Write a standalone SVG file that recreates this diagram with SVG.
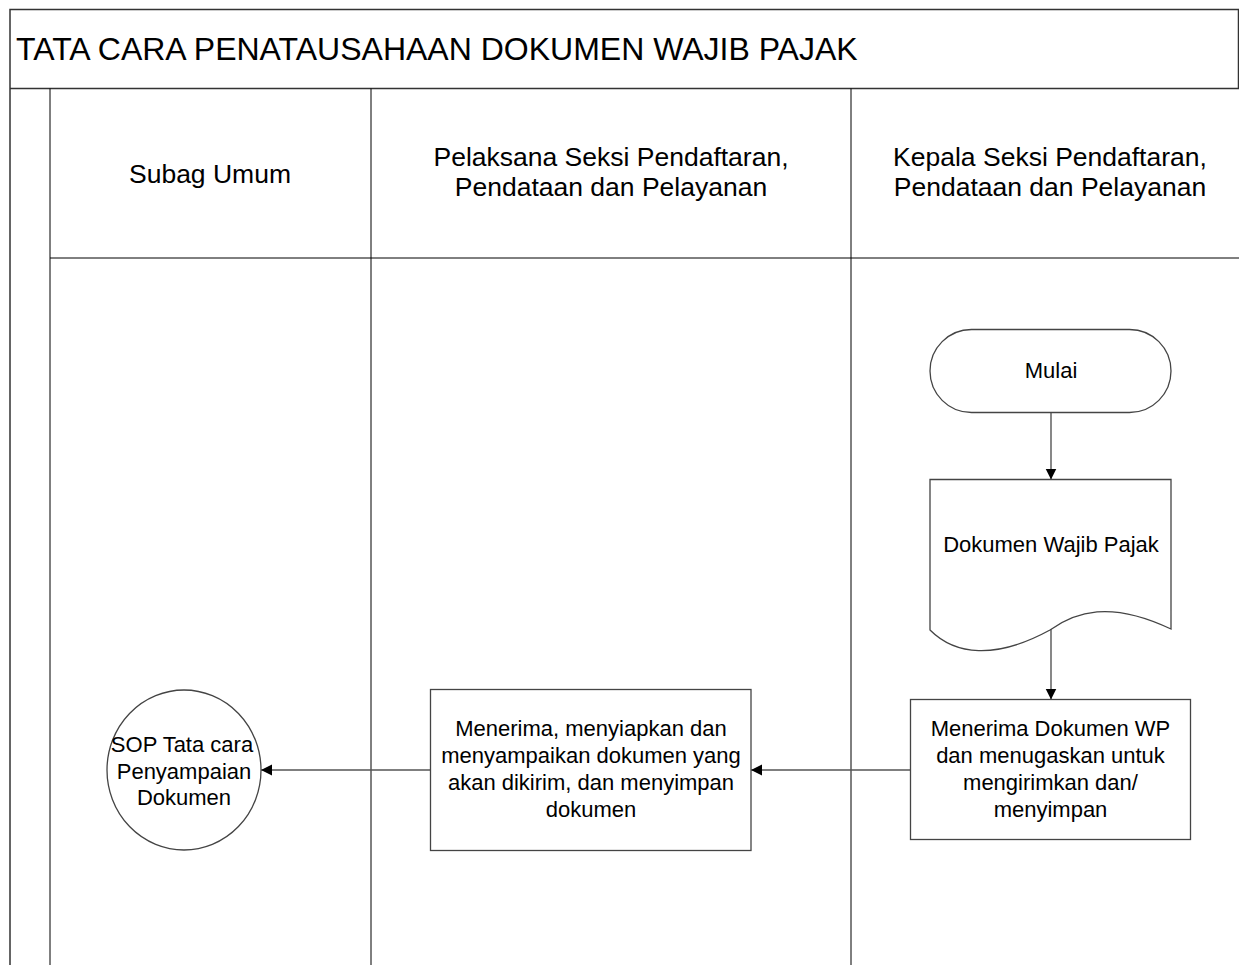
<svg xmlns="http://www.w3.org/2000/svg" width="1239" height="965" viewBox="0 0 1239 965">
  <style>
    text { font-family: "Liberation Sans", Arial, sans-serif; fill: #000; }
    .title { font-size: 32px; }
    .hdr { font-size: 26.5px; text-anchor: middle; }
    .lbl { font-size: 22px; text-anchor: middle; }
    .frame { fill: none; stroke: #333; stroke-width: 1.5; }
    .lane { fill: none; stroke: #000; stroke-width: 1; }
    .shape { fill: #fff; stroke: #444; stroke-width: 1.3; }
    .conn { fill: none; stroke: #555; stroke-width: 1.4; }
  </style>
  <defs>
    <marker id="arr" markerUnits="userSpaceOnUse" markerWidth="12" markerHeight="12" refX="11" refY="5.5" orient="auto">
      <path d="M0,0 L11,5.5 L0,11 Z" fill="#000"/>
    </marker>
  </defs>
  <rect width="1239" height="965" fill="#fff"/>

  <g id="pool">
    <path class="frame" d="M10,965 V9.5 H1238.5 V88.5"/>
    <line class="frame" x1="10" y1="88.5" x2="1239" y2="88.5"/>
    <text class="title" x="16" y="60">TATA CARA PENATAUSAHAAN DOKUMEN WAJIB PAJAK</text>
  </g>

  <g id="lanes">
    <line class="lane" x1="50" y1="88.5" x2="50" y2="965" stroke-width="1.5"/>
    <line class="lane" x1="371" y1="88.5" x2="371" y2="965"/>
    <line class="lane" x1="851" y1="88.5" x2="851" y2="965"/>
    <line class="lane" x1="50" y1="258" x2="1239" y2="258"/>
    <text class="hdr" x="210" y="183">Subag Umum</text>
    <text class="hdr" x="611" y="166">Pelaksana Seksi Pendaftaran,</text>
    <text class="hdr" x="611" y="196">Pendataan dan Pelayanan</text>
    <text class="hdr" x="1050" y="166">Kepala Seksi Pendaftaran,</text>
    <text class="hdr" x="1050" y="196">Pendataan dan Pelayanan</text>
  </g>

  <g id="connectors">
    <line class="conn" x1="1051" y1="412.5" x2="1051" y2="479.5" marker-end="url(#arr)"/>
    <line class="conn" x1="1051" y1="629" x2="1051" y2="699.5" marker-end="url(#arr)"/>
    <line class="conn" x1="910.5" y1="770" x2="751" y2="770" marker-end="url(#arr)"/>
    <line class="conn" x1="430.5" y1="770" x2="261" y2="770" marker-end="url(#arr)"/>
  </g>

  <g id="node-mulai">
    <rect class="shape" x="930" y="329.5" width="241" height="83" rx="41.5" ry="41.5"/>
    <text class="lbl" x="1051" y="378">Mulai</text>
  </g>

  <g id="node-dokumen">
    <path class="shape" d="M930,479.5 H1171 V629 C1110,600 1075,612 1050,630 C995,660 955,655 930,630 Z"/>
    <text class="lbl" x="1051" y="552">Dokumen Wajib Pajak</text>
  </g>

  <g id="node-menerima-kasi">
    <rect class="shape" x="910.5" y="699.5" width="280" height="140"/>
    <text class="lbl" x="1050.5" y="736">Menerima Dokumen WP</text>
    <text class="lbl" x="1050.5" y="763">dan menugaskan untuk</text>
    <text class="lbl" x="1050.5" y="790">mengirimkan dan/</text>
    <text class="lbl" x="1050.5" y="817">menyimpan</text>
  </g>

  <g id="node-menerima-pelaksana">
    <rect class="shape" x="430.5" y="689.5" width="320.5" height="161"/>
    <text class="lbl" x="591" y="736">Menerima, menyiapkan dan</text>
    <text class="lbl" x="591" y="763">menyampaikan dokumen yang</text>
    <text class="lbl" x="591" y="790">akan dikirim, dan menyimpan</text>
    <text class="lbl" x="591" y="817">dokumen</text>
  </g>

  <g id="node-sop">
    <ellipse class="shape" cx="184" cy="770" rx="77" ry="80"/>
    <text class="lbl" x="182" y="752">SOP Tata cara</text>
    <text class="lbl" x="184" y="779">Penyampaian</text>
    <text class="lbl" x="184" y="805">Dokumen</text>
  </g>
</svg>
